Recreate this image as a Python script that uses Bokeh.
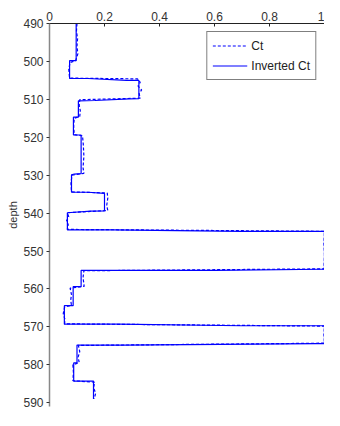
from bokeh.plotting import figure
from bokeh.models import Range1d, FixedTicker, Legend, LegendItem
from bokeh.embed import file_html
from bokeh.resources import INLINE

# Inverted Ct (solid): depth / value pairs
inv_depth = [490.0, 499.8, 499.8, 504.5, 504.5, 505.0, 505.0, 509.8, 509.9, 510.3, 510.4,
             514.7, 514.7, 519.4, 519.4, 529.6, 529.7, 529.9, 534.5, 534.5, 534.8, 534.8,
             539.4, 539.5, 539.9, 544.4, 544.4, 544.8, 544.8, 554.8, 554.8, 555.1, 555.1,
             559.4, 559.4, 564.4, 564.4, 569.3, 569.3, 569.7, 569.7, 574.4, 574.4, 574.8,
             574.8, 579.5, 579.5, 584.3, 584.3, 589.0]
inv_value = [0.097, 0.097, 0.073, 0.073, 0.140, 0.280, 0.325, 0.325, 0.290, 0.165, 0.105,
             0.105, 0.087, 0.087, 0.115, 0.115, 0.090, 0.080, 0.080, 0.140, 0.200, 0.200,
             0.200, 0.150, 0.065, 0.065, 0.230, 0.700, 1.000, 1.000, 0.990, 0.600, 0.115,
             0.115, 0.086, 0.086, 0.054, 0.054, 0.250, 0.700, 1.000, 1.000, 0.970, 0.270,
             0.100, 0.100, 0.088, 0.088, 0.160, 0.160]

# Ct (dashed): measured profile with small wiggles
ct_depth = [490.0, 492.0, 494.0, 496.0, 498.0, 499.8, 500.3, 502.0, 504.4, 504.6, 505.5,
            506.5, 507.5, 508.5, 509.7, 510.1, 511.5, 513.0, 514.5, 515.0, 517.0, 519.3,
            519.6, 522.0, 525.0, 528.0, 529.5, 530.0, 532.0, 534.4, 534.7, 536.0, 538.0,
            539.3, 539.9, 541.0, 542.0, 543.0, 544.3, 544.8, 548.0, 551.0, 554.7, 555.2,
            557.0, 559.3, 559.8, 561.5, 563.0, 564.3, 564.8, 566.5, 568.0, 569.2, 569.8,
            572.0, 574.3, 574.9, 576.5, 578.0, 579.4, 580.0, 582.0, 584.2, 584.6, 586.0,
            587.5, 589.0]
ct_value = [0.100, 0.098, 0.102, 0.100, 0.103, 0.095, 0.075, 0.070, 0.073, 0.320, 0.330,
            0.322, 0.335, 0.326, 0.330, 0.110, 0.108, 0.112, 0.110, 0.090, 0.088, 0.090,
            0.120, 0.123, 0.125, 0.122, 0.125, 0.082, 0.078, 0.080, 0.210, 0.212, 0.208,
            0.212, 0.065, 0.070, 0.062, 0.068, 0.065, 1.000, 0.998, 1.000, 0.998, 0.125,
            0.122, 0.126, 0.075, 0.080, 0.077, 0.080, 0.055, 0.050, 0.056, 0.055, 1.000,
            0.998, 1.000, 0.105, 0.110, 0.104, 0.108, 0.085, 0.087, 0.085, 0.165, 0.160,
            0.168, 0.162]

x_ticks = [0, 0.2, 0.4, 0.6, 0.8, 1]
x_tick_labels = ["0", "0.2", "0.4", "0.6", "0.8", "1"]
y_ticks = [490, 500, 510, 520, 530, 540, 550, 560, 570, 580, 590]

FONT = "Liberation Sans"
BLUE = "#0000ff"

p = figure(width=324, height=410, output_backend="svg", toolbar_location=None,
           x_range=Range1d(0, 1), y_range=Range1d(591.0, 490),
           x_axis_location="above", min_border_left=49, min_border_top=23,
           min_border_right=0, min_border_bottom=4)
p.outline_line_color = None
p.grid.visible = False
p.background_fill_color = "white"
p.border_fill_color = "white"

r_ct = p.line(ct_value, ct_depth, line_color=BLUE, line_width=1.2, line_dash="3 2")
r_inv = p.line(inv_value, inv_depth, line_color=BLUE, line_width=1.2)

xa = p.xaxis[0]
xa.ticker = FixedTicker(ticks=x_ticks)
xa.major_label_overrides = {t: l for t, l in zip(x_ticks, x_tick_labels)}
xa.major_tick_in = 3
xa.major_tick_out = 0
xa.minor_tick_in = 0
xa.minor_tick_out = 0
xa.axis_line_color = "#222222"
xa.major_tick_line_color = "#222222"
xa.major_label_text_font = FONT
xa.major_label_text_font_size = "12px"
xa.major_label_text_color = "#333333"
xa.major_label_standoff = 3

ya = p.yaxis[0]
ya.ticker = FixedTicker(ticks=y_ticks)
ya.major_tick_in = 0
ya.major_tick_out = 3
ya.minor_tick_in = 0
ya.minor_tick_out = 0
ya.axis_line_color = "#888888"
ya.axis_line_width = 1.5
ya.major_tick_line_color = "#333333"
ya.major_label_text_font = FONT
ya.major_label_text_font_size = "12px"
ya.major_label_text_color = "#333333"
ya.major_label_standoff = 3
ya.axis_label = "depth"
ya.axis_label_text_font = FONT
ya.axis_label_text_font_style = "normal"
ya.axis_label_text_font_size = "11px"
ya.axis_label_text_color = "#333333"
ya.axis_label_standoff = 1

legend = Legend(items=[LegendItem(label="Ct", renderers=[r_ct]),
                       LegendItem(label="Inverted Ct", renderers=[r_inv])],
                location="top_right")
legend.margin = 8
legend.padding = 5
legend.spacing = 3
legend.glyph_width = 35
legend.glyph_height = 17
legend.label_height = 17
legend.label_standoff = 4
legend.label_text_font = FONT
legend.label_text_font_size = "12px"
legend.label_text_color = "#222222"
legend.border_line_color = "black"
legend.border_line_width = 1
legend.background_fill_alpha = 1
p.add_layout(legend, "center")

open("out.html", "w").write(file_html(p, INLINE))
